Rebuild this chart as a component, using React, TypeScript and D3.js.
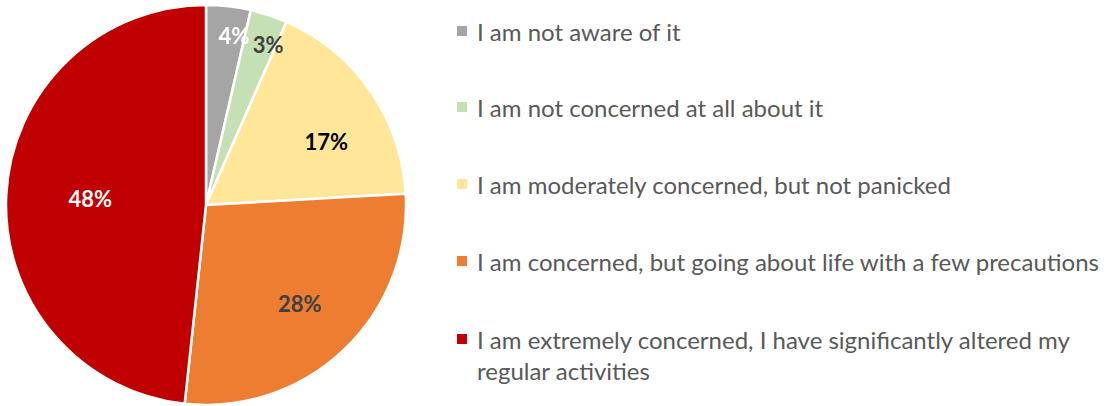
import React from "react";
import * as d3 from "d3";

const categories = [
  "I am not aware of it",
  "I am not concerned at all about it",
  "I am moderately concerned, but not panicked",
  "I am concerned, but going about life with a few precautions",
  "I am extremely concerned, I have significantly altered my regular activities",
];
const values = [3.6, 3.0, 17.5, 27.6, 48.3];
const labels = ["4%", "3%", "17%", "28%", "48%"];
const colors = ["#A5A5A5", "#C5E0B4", "#FFE699", "#ED7D31", "#C00000"];
const labelColors = ["#FFFFFF", "#404040", "#000000", "#404040", "#FFFFFF"];
const legendLines = [
  ["I am not aware of it"],
  ["I am not concerned at all about it"],
  ["I am moderately concerned, but not panicked"],
  ["I am concerned, but going about life with a few precautions"],
  ["I am extremely concerned, I have significantly altered my", "regular activities"],
];

export default function App() {
  const W = 1113, H = 406;
  const cx = 206, cy = 205, r = 200;
  const pie = d3.pie<number>().sort(null).value((d) => d);
  const arcs = pie(values);
  const arc = d3.arc<d3.PieArcDatum<number>>().innerRadius(0).outerRadius(r);
  const labelPos = (a: d3.PieArcDatum<number>) => {
    const v = a.data;
    const f = v < 5 ? 0.86 : v > 40 ? 0.58 : 0.68;
    const m = (a.startAngle + a.endAngle) / 2 + (v < 5 ? 0.05 : v < 20 ? 0.12 : 0);
    return [Math.sin(m) * r * f, -Math.cos(m) * r * f];
  };
  const legendY = [31, 107, 184, 261, 339];
  const font = "Lato, 'Open Sans', sans-serif";
  return (
    <svg width={W} height={H} style={{ position: "absolute", left: 0, top: 0, background: "#fff" }}>
      <g transform={`translate(${cx},${cy})`}>
        {arcs.map((a, i) => (
          <path key={i} d={arc(a) || ""} fill={colors[i]} stroke="#fff" strokeWidth={2.5} strokeLinejoin="round" />
        ))}
        {arcs.map((a, i) => {
          const [x, y] = labelPos(a);
          return (
            <text key={i} x={x} y={y} textAnchor="middle" dominantBaseline="central"
              fontFamily={font} fontWeight={700} fontSize={22} fill={labelColors[i]}>
              {labels[i]}
            </text>
          );
        })}
      </g>
      {categories.map((c, i) => (
        <g key={i}>
          <rect x={457} y={legendY[i] - 5} width={10} height={10} fill={colors[i]} />
          {legendLines[i].map((line, j) => (
            <text key={j} x={477} y={legendY[i] + j * 31} dominantBaseline="central"
              fontFamily={font} fontSize={24} fill="#595959">
              {line}
            </text>
          ))}
        </g>
      ))}
    </svg>
  );
}
